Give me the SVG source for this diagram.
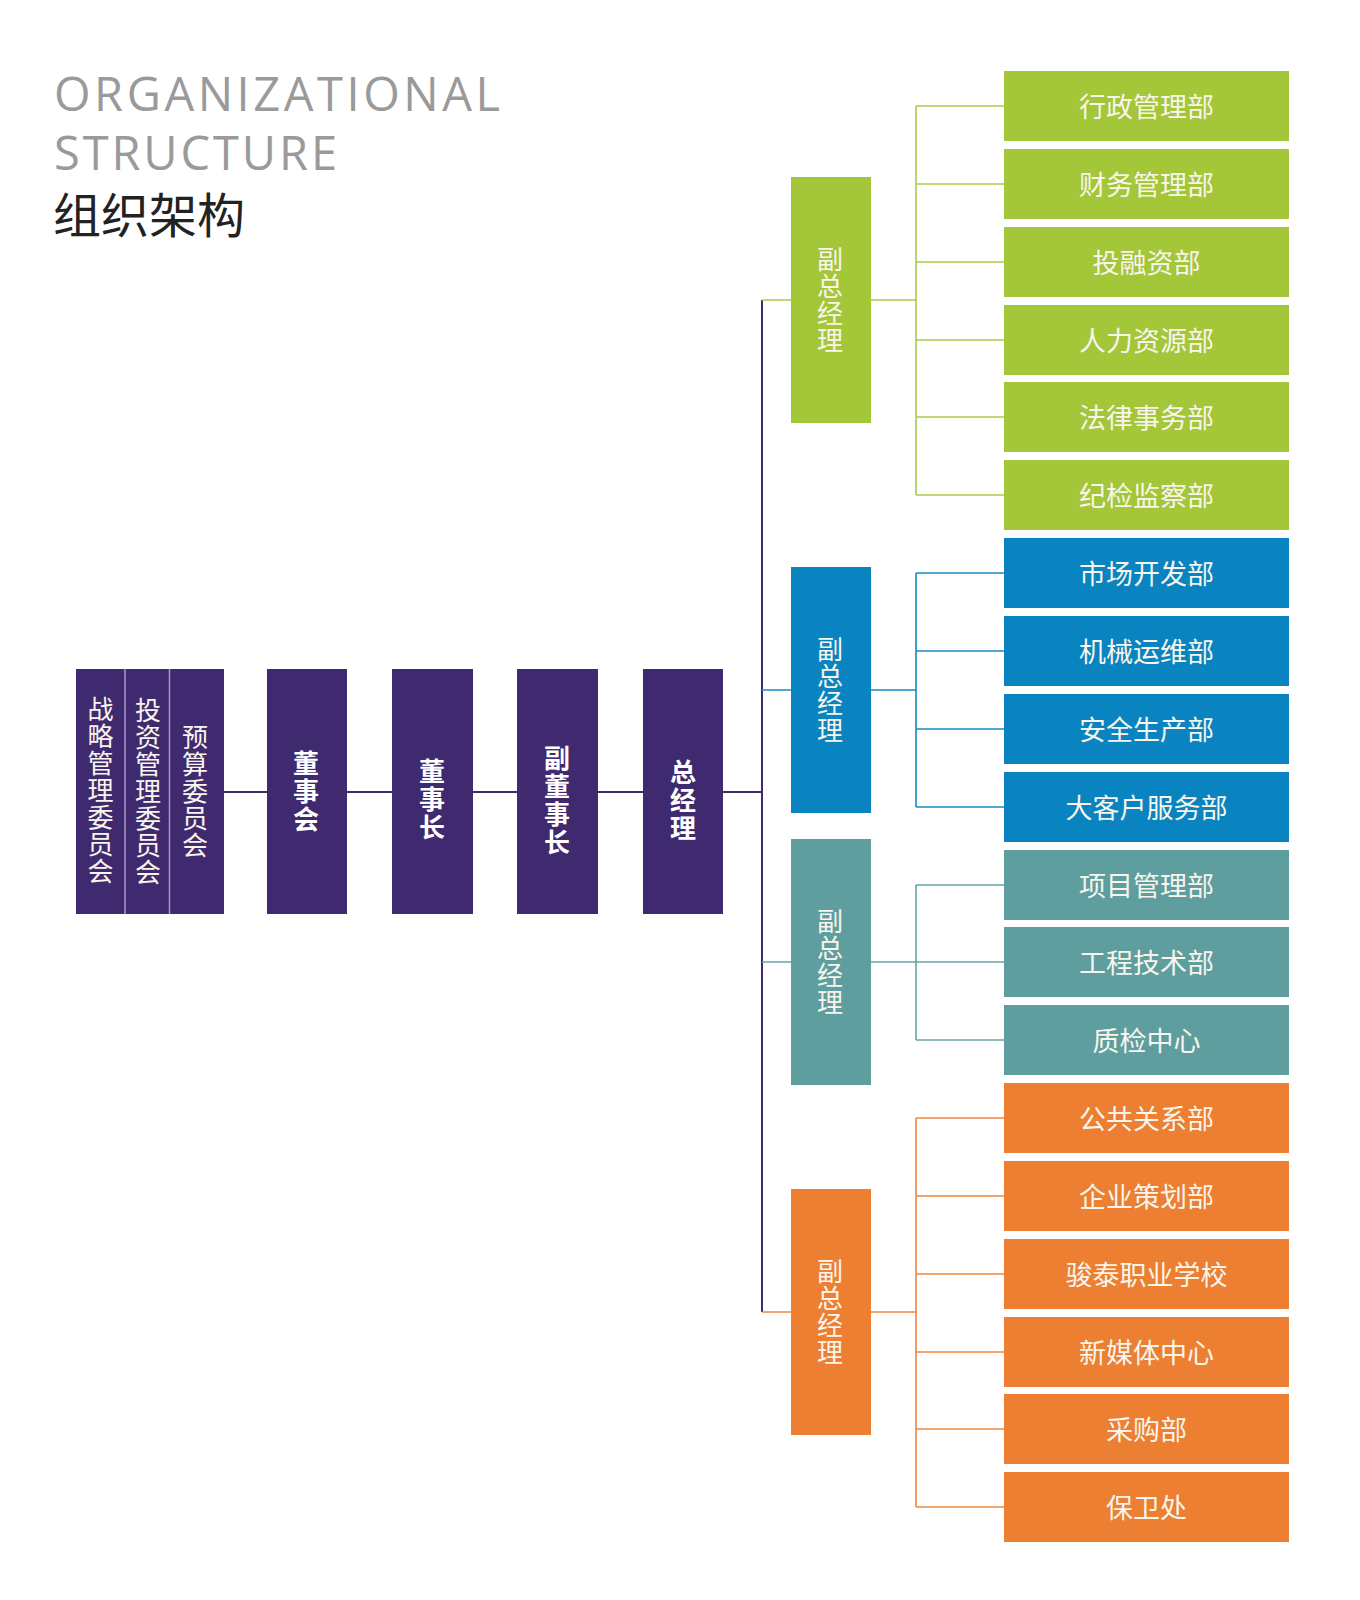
<svg xmlns="http://www.w3.org/2000/svg" width="1360" height="1600" viewBox="0 0 1360 1600">
<style>
.bg{fill:#ffffff}
.pu{fill:#402a6f}
.gr{fill:#a4c639}
.bl{fill:#0a84c1}
.te{fill:#5f9e9f}
.or{fill:#ec7f31}
.t{font-family:"Noto Sans CJK SC","Noto Sans",sans-serif;font-size:27px;fill:#f8f5ec;text-anchor:middle}
.v{font-family:"Noto Sans CJK SC","Noto Sans",sans-serif;font-size:26px;fill:#f8f5ec;text-anchor:middle;writing-mode:vertical-rl;letter-spacing:1px}
.vb{font-family:"Noto Sans CJK SC","Noto Sans",sans-serif;font-size:26px;font-weight:bold;fill:#ffffff;text-anchor:middle;writing-mode:vertical-rl;letter-spacing:2px}
.lp{stroke:#402a6f;stroke-width:2;fill:none}
.lg{stroke:#a9cb4c;stroke-width:1.6;fill:none}
.lb{stroke:#1a8ac3;stroke-width:1.6;fill:none}
.lt{stroke:#68a4a5;stroke-width:1.6;fill:none}
.lo{stroke:#ee8840;stroke-width:1.6;fill:none}
.div{stroke:#a898c8;stroke-width:1.5}
</style>
<rect class="bg" x="0" y="0" width="1360" height="1600"/>

<g id="title">
<text x="54" y="111" font-family="'Open Sans','Noto Sans',sans-serif" font-size="47" fill="#9a9a9a" textLength="446" lengthAdjust="spacing">ORGANIZATIONAL</text>
<text x="54" y="170" font-family="'Open Sans','Noto Sans',sans-serif" font-size="47" fill="#9a9a9a" textLength="283" lengthAdjust="spacing">STRUCTURE</text>
<text x="53" y="233" font-family="'Noto Sans CJK SC',sans-serif" font-size="48" fill="#222222">组织架构</text>
</g>

<g id="connectors">
<path class="lp" d="M224,792 H267 M347,792 H392 M473,792 H517 M598,792 H643 M723,792 H762 M762,300 V1312"/>
<path class="lg" d="M762,300 H791 M871,300 H916 M916,106 V495 M916,106 H1004 M916,184 H1004 M916,262 H1004 M916,340 H1004 M916,417 H1004 M916,495 H1004"/>
<path class="lb" d="M762,690 H791 M871,690 H916 M916,573 V807 M916,573 H1004 M916,651 H1004 M916,729 H1004 M916,807 H1004"/>
<path class="lt" d="M762,962 H791 M871,962 H916 M916,885 V1040 M916,885 H1004 M916,962 H1004 M916,1040 H1004"/>
<path class="lo" d="M762,1312 H791 M871,1312 H916 M916,1118 V1507 M916,1118 H1004 M916,1196 H1004 M916,1274 H1004 M916,1352 H1004 M916,1429 H1004 M916,1507 H1004"/>
</g>

<g id="committees">
<rect class="pu" x="76" y="669" width="148" height="245"/>
<line class="div" x1="125" y1="669" x2="125" y2="914"/>
<line class="div" x1="169.5" y1="669" x2="169.5" y2="914"/>
<text class="v" x="100.5" y="791">战略管理委员会</text>
<text class="v" x="148" y="792">投资管理委员会</text>
<text class="v" x="195" y="792">预算委员会</text>
</g>

<g id="board">
<rect class="pu" x="267" y="669" width="80" height="245"/>
<text class="vb" x="306" y="792">董事会</text>
</g>
<g id="chairman">
<rect class="pu" x="392" y="669" width="81" height="245"/>
<text class="vb" x="432" y="800">董事长</text>
</g>
<g id="vice-chairman">
<rect class="pu" x="517" y="669" width="81" height="245"/>
<text class="vb" x="557" y="801" letter-spacing="1">副董事长</text>
</g>
<g id="gm">
<rect class="pu" x="643" y="669" width="80" height="245"/>
<text class="vb" x="683" y="801">总经理</text>
</g>

<g id="vp1">
<rect class="gr" x="791" y="177" width="80" height="246"/>
<text class="v" x="830" y="300">副总经理</text>
</g>
<g id="vp2">
<rect class="bl" x="791" y="567" width="80" height="246"/>
<text class="v" x="830" y="690">副总经理</text>
</g>
<g id="vp3">
<rect class="te" x="791" y="839" width="80" height="246"/>
<text class="v" x="830" y="962">副总经理</text>
</g>
<g id="vp4">
<rect class="or" x="791" y="1189" width="80" height="246"/>
<text class="v" x="830" y="1312">副总经理</text>
</g>

<g id="d1"><rect class="gr" x="1004" y="71" width="285" height="70"/><text class="t" x="1146.5" y="116.5">行政管理部</text></g>
<g id="d2"><rect class="gr" x="1004" y="149" width="285" height="70"/><text class="t" x="1146.5" y="194.5">财务管理部</text></g>
<g id="d3"><rect class="gr" x="1004" y="227" width="285" height="70"/><text class="t" x="1146.5" y="272.5">投融资部</text></g>
<g id="d4"><rect class="gr" x="1004" y="305" width="285" height="70"/><text class="t" x="1146.5" y="350.5">人力资源部</text></g>
<g id="d5"><rect class="gr" x="1004" y="382" width="285" height="70"/><text class="t" x="1146.5" y="427.5">法律事务部</text></g>
<g id="d6"><rect class="gr" x="1004" y="460" width="285" height="70"/><text class="t" x="1146.5" y="505.5">纪检监察部</text></g>
<g id="d7"><rect class="bl" x="1004" y="538" width="285" height="70"/><text class="t" x="1146.5" y="583.5">市场开发部</text></g>
<g id="d8"><rect class="bl" x="1004" y="616" width="285" height="70"/><text class="t" x="1146.5" y="661.5">机械运维部</text></g>
<g id="d9"><rect class="bl" x="1004" y="694" width="285" height="70"/><text class="t" x="1146.5" y="739.5">安全生产部</text></g>
<g id="d10"><rect class="bl" x="1004" y="772" width="285" height="70"/><text class="t" x="1146.5" y="817.5">大客户服务部</text></g>
<g id="d11"><rect class="te" x="1004" y="850" width="285" height="70"/><text class="t" x="1146.5" y="895.5">项目管理部</text></g>
<g id="d12"><rect class="te" x="1004" y="927" width="285" height="70"/><text class="t" x="1146.5" y="972.5">工程技术部</text></g>
<g id="d13"><rect class="te" x="1004" y="1005" width="285" height="70"/><text class="t" x="1146.5" y="1050.5">质检中心</text></g>
<g id="d14"><rect class="or" x="1004" y="1083" width="285" height="70"/><text class="t" x="1146.5" y="1128.5">公共关系部</text></g>
<g id="d15"><rect class="or" x="1004" y="1161" width="285" height="70"/><text class="t" x="1146.5" y="1206.5">企业策划部</text></g>
<g id="d16"><rect class="or" x="1004" y="1239" width="285" height="70"/><text class="t" x="1146.5" y="1284.5">骏泰职业学校</text></g>
<g id="d17"><rect class="or" x="1004" y="1317" width="285" height="70"/><text class="t" x="1146.5" y="1362.5">新媒体中心</text></g>
<g id="d18"><rect class="or" x="1004" y="1394" width="285" height="70"/><text class="t" x="1146.5" y="1439.5">采购部</text></g>
<g id="d19"><rect class="or" x="1004" y="1472" width="285" height="70"/><text class="t" x="1146.5" y="1517.5">保卫处</text></g>
</svg>
